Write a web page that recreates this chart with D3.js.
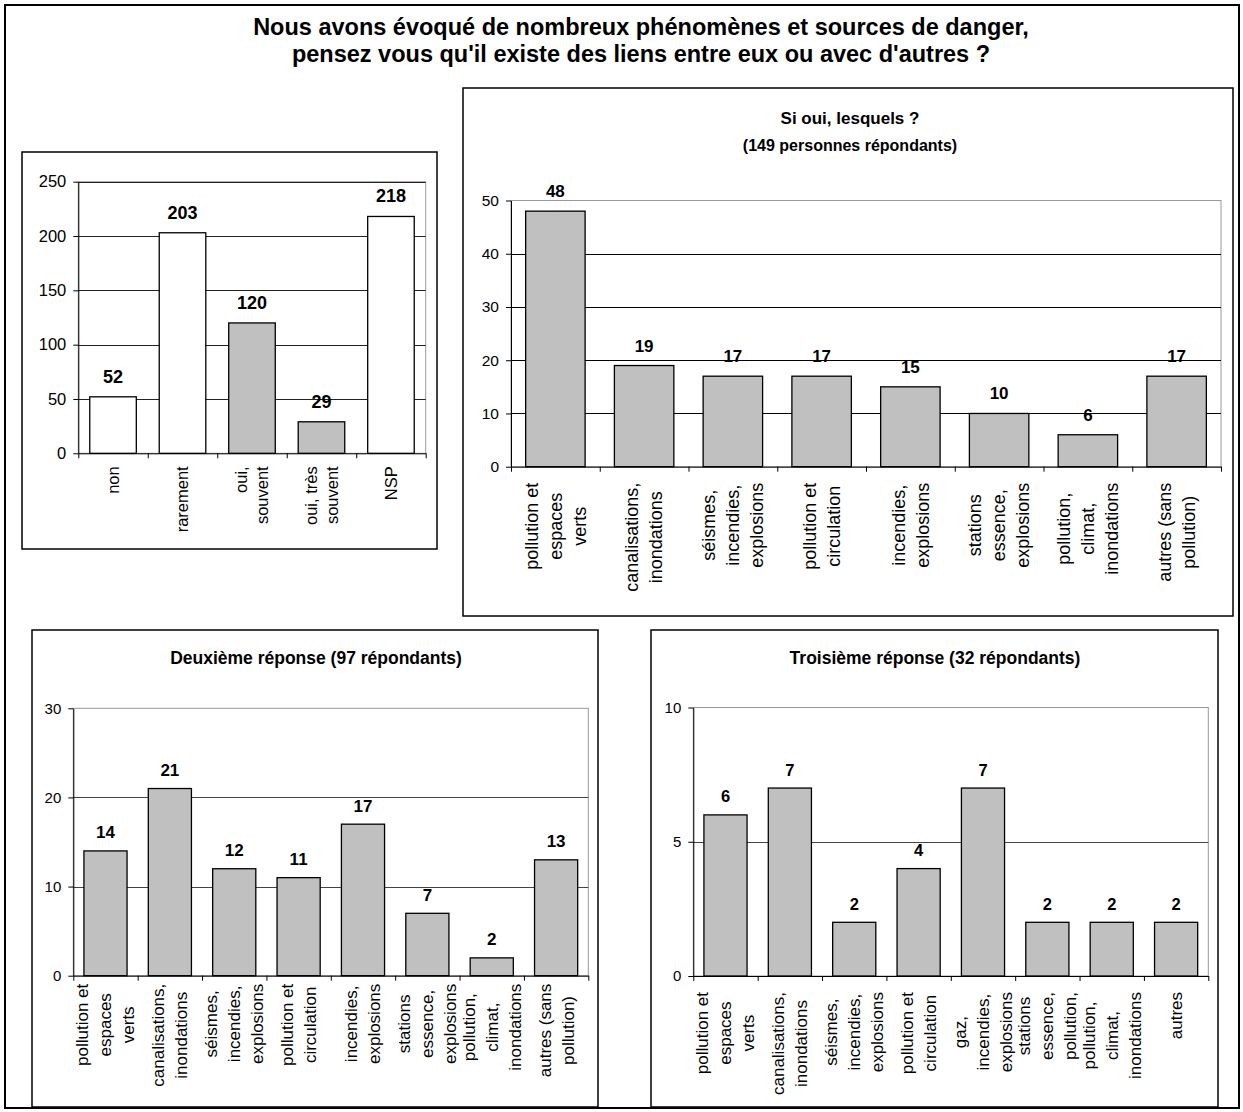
<!DOCTYPE html>
<html><head><meta charset="utf-8">
<script src="https://cdn.jsdelivr.net/npm/d3@7"></script>
<style>
body{margin:0;background:#fff}
text{font-family:"Liberation Sans",Arial,Helvetica,sans-serif;fill:#000}
</style>
</head><body>
<svg id="c" width="1243" height="1112"></svg>
<script>
// ---------------- DATA ----------------
const mainTitle = ["Nous avons évoqué de nombreux phénomènes et sources de danger,",
                   "pensez vous qu'il existe des liens entre eux ou avec d'autres ?"];

const cat1 = ["non", "rarement", "oui,\nsouvent", "oui, très\nsouvent", "NSP"];
const val1 = [52, 203, 120, 29, 218];
const ticks1 = [0, 50, 100, 150, 200, 250];

const title2 = ["Si oui, lesquels ?", "(149 personnes répondants)"];
const cat2 = ["pollution et\nespaces\nverts", "canalisations,\ninondations", "séismes,\nincendies,\nexplosions",
              "pollution et\ncirculation", "incendies,\nexplosions", "stations\nessence,\nexplosions",
              "pollution,\nclimat,\ninondations", "autres (sans\npollution)"];
const val2 = [48, 19, 17, 17, 15, 10, 6, 17];
const ticks2 = [0, 10, 20, 30, 40, 50];

const title3 = ["Deuxième réponse (97 répondants)"];
const cat3 = ["pollution et\nespaces\nverts", "canalisations,\ninondations", "séismes,\nincendies,\nexplosions",
              "pollution et\ncirculation", "incendies,\nexplosions", "stations\nessence,\nexplosions",
              "pollution,\nclimat,\ninondations", "autres (sans\npollution)"];
const val3 = [14, 21, 12, 11, 17, 7, 2, 13];
const ticks3 = [0, 10, 20, 30];

const title4 = ["Troisième réponse (32 répondants)"];
const cat4 = ["pollution et\nespaces\nverts", "canalisations,\ninondations", "séismes,\nincendies,\nexplosions",
              "pollution et\ncirculation", "gaz,\nincendies,\nexplosions", "stations\nessence,\npollution,",
              "pollution,\nclimat,\ninondations", "autres"];
const val4 = [6, 7, 2, 4, 7, 2, 2, 2];
const ticks4 = [0, 5, 10];

// ---------------- LAYOUT ----------------
const panels = [
  {cats: cat1, vals: val1, ticks: ticks1, title: [], box: [22, 152, 437, 549],
   px: [78.3, 425.7], py: [453.3, 181.7], tickFs: 16.5, lh: 21, yFs: 16.5, vFs: 18, vGap: 14,
   lblOff: 13, align: "end", gridTop: true, grid: "#222"},
  {cats: cat2, vals: val2, ticks: ticks2, title: title2, titleY: [124, 151], titleFs: [17, 16], titleX: 850,
   box: [463, 88, 1233, 616], px: [511, 1221], py: [466.7, 200.5], tickFs: 18, lh: 24, yFs: 15.5, vFs: 17, vGap: 14,
   lblOff: 16, align: "middle", gridTop: false, grid: "#000"},
  {cats: cat3, vals: val3, ticks: ticks3, title: title3, titleY: [664], titleFs: [17.5], titleX: 316,
   box: [32, 630, 598, 1107], px: [73.3, 588.3], py: [975.7, 708.3], tickFs: 17, lh: 23, yFs: 15, vFs: 17, vGap: 12.5,
   lblOff: 8, align: "middle", gridTop: false, grid: "#444"},
  {cats: cat4, vals: val4, ticks: ticks4, title: title4, titleY: [664], titleFs: [17.5], titleX: 935,
   box: [651, 630, 1218, 1107], px: [693.3, 1208.3], py: [976, 707.5], tickFs: 17, lh: 23, yFs: 15, vFs: 16.5, vGap: 12.5,
   lblOff: 16, align: "middle", gridTop: false, grid: "#444"}
];

const svg = d3.select("#c");
svg.append("rect").attr("x", 5).attr("y", 5).attr("width", 1234).attr("height", 1103)
  .attr("fill", "#fff").attr("stroke", "#000").attr("stroke-width", 2);

svg.selectAll("text.main").data(mainTitle).join("text").attr("class", "main")
  .attr("x", 641).attr("y", (d, i) => 34.5 + i * 27)
  .attr("text-anchor", "middle").attr("font-size", 23.5).attr("font-weight", "bold").text(d => d);

panels.forEach(p => {
  const g = svg.append("g");
  const n = p.cats.length;
  const ymax = d3.max(p.ticks);
  g.append("rect").attr("x", p.box[0]).attr("y", p.box[1])
    .attr("width", p.box[2] - p.box[0]).attr("height", p.box[3] - p.box[1])
    .attr("fill", "#fff").attr("stroke", "#000").attr("stroke-width", 1.5);

  p.title.forEach((t, i) => {
    g.append("text").attr("x", p.titleX).attr("y", p.titleY[i]).attr("text-anchor", "middle")
      .attr("font-size", p.titleFs[i]).attr("font-weight", "bold").text(t);
  });

  const x = d3.scaleBand().domain(d3.range(n)).range(p.px).paddingInner(0.33).paddingOuter(0.165);
  const xb = d3.scaleLinear().domain([0, n]).range(p.px);
  const y = d3.scaleLinear().domain([0, ymax]).range(p.py);

  // plot area border
  g.append("rect").attr("x", p.px[0]).attr("y", y(ymax)).attr("width", p.px[1] - p.px[0])
    .attr("height", y(0) - y(ymax)).attr("fill", "none").attr("stroke", "#999").attr("stroke-width", 1);

  // gridlines
  g.selectAll("line.grid").data(p.ticks.filter(t => t > 0 && (p.gridTop || t < ymax))).join("line")
    .attr("class", "grid").attr("x1", p.px[0]).attr("x2", p.px[1])
    .attr("y1", d => Math.round(y(d)) + 0.5).attr("y2", d => Math.round(y(d)) + 0.5)
    .attr("stroke", p.grid).attr("stroke-width", 1);

  // bars
  g.selectAll("rect.bar").data(p.vals).join("rect").attr("class", "bar")
    .attr("x", (d, i) => x(i)).attr("width", x.bandwidth())
    .attr("y", d => y(d)).attr("height", d => y(0) - y(d))
    .attr("fill", (d, i) => (p.cats === cat1 && !p.cats[i].startsWith("oui")) ? "#fff" : "#c0c0c0")
    .attr("stroke", "#000").attr("stroke-width", 1.3);

  // value labels
  g.selectAll("text.val").data(p.vals).join("text").attr("class", "val")
    .attr("x", (d, i) => x(i) + x.bandwidth() / 2).attr("y", d => y(d) - p.vGap)
    .attr("text-anchor", "middle").attr("font-size", p.vFs).attr("font-weight", "bold").text(d => d);

  // y axis
  const ya = g.append("g").attr("transform", `translate(${p.px[0]},0)`)
    .call(d3.axisLeft(y).tickValues(p.ticks).tickSize(5).tickSizeOuter(0).tickPadding(7));
  ya.select(".domain").attr("stroke", "#000");
  ya.selectAll("line").attr("stroke", "#000");
  ya.selectAll("text").attr("font-size", p.yFs).attr("font-family", null).attr("fill", "#000");

  // x axis (category boundary ticks)
  const xa = g.append("g").attr("transform", `translate(0,${y(0)})`)
    .call(d3.axisBottom(xb).tickValues(d3.range(n + 1)).tickSize(5).tickSizeOuter(0).tickFormat(""));
  xa.select(".domain").attr("stroke", "#000");
  xa.selectAll("line").attr("stroke", "#000");

  // category labels, rotated
  p.cats.forEach((c, i) => {
    const cx = x(i) + x.bandwidth() / 2;
    const lines = c.split("\n");
    const lg = g.append("g").attr("transform", `translate(${cx},${y(0) + p.lblOff}) rotate(-90)`);
    const ts = lines.map(l => lg.append("text").attr("font-size", p.tickFs).text(l));
    const W = d3.max(ts, t => t.node().getComputedTextLength());
    ts.forEach((t, j) => {
      t.attr("y", (j - (lines.length - 1) / 2) * p.lh).attr("dy", "0.35em");
      if (p.align === "middle") t.attr("text-anchor", "middle").attr("x", -W / 2);
      else t.attr("text-anchor", "end").attr("x", 0);
    });
  });
});
</script>
</body></html>
